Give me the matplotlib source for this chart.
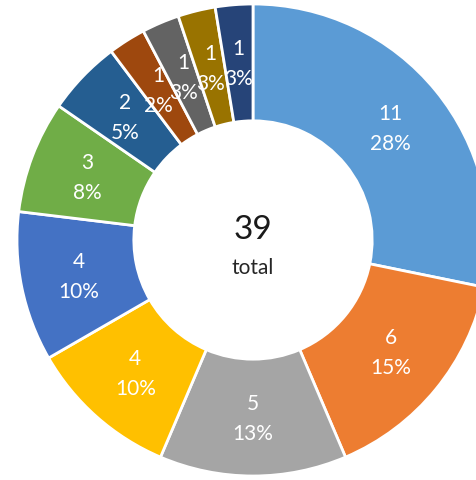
import matplotlib
matplotlib.use("Agg")
import matplotlib.pyplot as plt
import numpy as np

values = [11, 6, 5, 4, 4, 3, 2, 1, 1, 1, 1]
pct_labels = ["28%", "15%", "13%", "10%", "10%", "8%", "5%", "2%", "3%", "3%", "3%"]
colors = ["#5B9BD5", "#ED7D31", "#A5A5A5", "#FFC000", "#4472C4", "#70AD47",
          "#255E91", "#9E480E", "#636363", "#997300", "#264478"]
total_value = 39
total_label = "total"

W, H = 477, 481
cx, cy, R = 253, 241, 236
fig = plt.figure(figsize=(W / 100, H / 100), dpi=100)
ax = fig.add_axes([0, 0, 1, 1])

inner = 0.505
wedges, _ = ax.pie(values, colors=colors, startangle=90, counterclock=False,
                   radius=1.0, wedgeprops=dict(width=1 - inner, edgecolor="white", linewidth=2))
ax.set_aspect("auto")
ax.set_xlim(-cx / R, (W - cx) / R)
ax.set_ylim(-(H - cy) / R, cy / R)
ax.axis("off")

font = "Lato"
rmid = (1 + inner) / 2
cum = np.cumsum([0] + values[:-1])
tot = sum(values)
for v, c, p in zip(values, cum, pct_labels):
    ang = np.deg2rad(90 - (c + v / 2) / tot * 360)
    x, y = rmid * np.cos(ang), rmid * np.sin(ang)
    dy = 15 / R
    ax.text(x, y + dy, str(v), ha="center", va="center", color="white", fontsize=15, family=font)
    ax.text(x, y - dy, p, ha="center", va="center", color="white", fontsize=15, family=font)

ax.text(0, 11 / R, str(total_value), ha="center", va="center", fontsize=24, color="#1a1a1a", family=font)
ax.text(0, -27 / R, total_label, ha="center", va="center", fontsize=15, color="#262626", family=font)

fig.savefig("out.png", dpi=100)
